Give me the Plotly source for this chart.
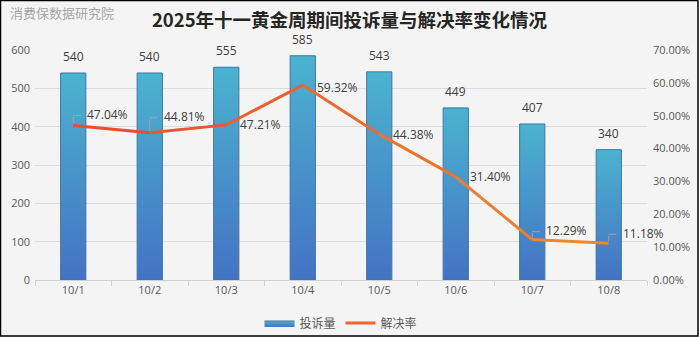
import plotly.graph_objects as go

dates = ["10/1", "10/2", "10/3", "10/4", "10/5", "10/6", "10/7", "10/8"]
complaints = [540, 540, 555, 585, 543, 449, 407, 340]
resolve_rate = [47.04, 44.81, 47.21, 59.32, 44.38, 31.40, 12.29, 11.18]
# label offsets (pixels; negative dy = upward) for the rate labels
label_dx = [12, 12, 12, 12, 12, 12, 12, 12]
label_dy = [-11, -16, 0, 2, 0, 0, -9, -10]

FONT = "Open Sans, Noto Sans CJK SC, sans-serif"
GRAY = "#595959"
BAR_W = 0.33
LEADER = "#A6A6A6"

fig = go.Figure()

# gradient bars
for i, v in enumerate(complaints):
    x0, x1 = i - BAR_W / 2, i + BAR_W / 2
    fig.add_trace(go.Scatter(
        x=[x0, x1, x1, x0, x0], y=[0, 0, v, v, 0],
        mode="lines", fill="toself",
        line=dict(color="#3B76AE", width=1),
        fillgradient=dict(type="vertical",
                          colorscale=[[0, "#4472C4"], [1, "#4BB3CF"]]),
        name="投诉量", legendgroup="bar", showlegend=(i == 0),
        hoverinfo="skip", yaxis="y",
    ))
    fig.add_annotation(x=i, y=v, xref="x", yref="y", text=str(v),
                       showarrow=False, yanchor="bottom", yshift=6,
                       font=dict(size=12, color="#404040", family=FONT))

# rate line, segmented for red->orange gradient
def lerp(c1, c2, t):
    return "#%02x%02x%02x" % tuple(int(round(a + (b - a) * t)) for a, b in zip(c1, c2))

c_start = (234, 71, 46)
c_end = (240, 140, 48)
n = len(resolve_rate)
for i in range(n - 1):
    t = (i + 0.5) / (n - 1)
    fig.add_trace(go.Scatter(
        x=[i, i + 1], y=[resolve_rate[i] / 100, resolve_rate[i + 1] / 100],
        mode="lines", line=dict(color=lerp(c_start, c_end, t), width=3),
        name="解决率", legendgroup="line", showlegend=False,
        hoverinfo="skip", yaxis="y2",
    ))
fig.add_trace(go.Scatter(
    x=[None], y=[None], mode="lines",
    line=dict(color="#F0642E", width=3), name="解决率",
    legendgroup="line", showlegend=True, yaxis="y2",
))

for i, r in enumerate(resolve_rate):
    dx, dy = label_dx[i], label_dy[i]
    fig.add_annotation(x=i, y=r / 100, xref="x", yref="y2",
                       text=f"{r:.2f}%", showarrow=False,
                       xanchor="left", yanchor="middle",
                       xshift=dx, yshift=-dy,
                       font=dict(size=12, color="#404040", family=FONT))
    if dy <= -5:
        # L-shaped leader line: vertical piece
        fig.add_annotation(x=i, y=r / 100, xref="x", yref="y2", text="",
                           showarrow=True, arrowhead=0, arrowwidth=1,
                           arrowcolor=LEADER, ax=0, ay=dy + 1, standoff=2)
        # horizontal piece
        fig.add_annotation(x=i, y=r / 100, xref="x", yref="y2", text="",
                           showarrow=True, arrowhead=0, arrowwidth=1,
                           arrowcolor=LEADER, ax=dx - 3, ay=0,
                           yshift=-(dy + 1), standoff=0)

fig.update_layout(
    width=699, height=337,
    paper_bgcolor="#F4F4F4", plot_bgcolor="#F4F4F4",
    margin=dict(l=35, r=52, t=50, b=57, autoexpand=False),
    font=dict(family=FONT, size=11, color=GRAY),
    title=dict(text="<b>2025年十一黄金周期间投诉量与解决率变化情况</b>",
               x=0.5, xanchor="center", y=0.94, yanchor="middle",
               font=dict(size=18.5, color="#262626",
                         family="Noto Sans CJK SC, sans-serif")),
    xaxis=dict(range=[-0.5, len(dates) - 0.5], tickvals=list(range(len(dates))),
               ticktext=dates, showgrid=False, zeroline=False,
               showline=True, linecolor="#D0D0D0", linewidth=1,
               ticks="", tickfont=dict(size=11, color=GRAY),
               minor=dict(tickvals=[k - 0.5 for k in range(len(dates) + 1)],
                          ticks="outside", ticklen=5, tickcolor="#D0D0D0",
                          showgrid=False)),
    yaxis=dict(range=[0, 600], dtick=100, showgrid=True, gridcolor="#DCDCDC",
               zeroline=False, ticks="", ticklabelstandoff=4,
               tickfont=dict(size=11, color=GRAY)),
    yaxis2=dict(range=[0, 0.7], dtick=0.1, tickformat=".2%", overlaying="y",
                side="right", showgrid=False, zeroline=False, ticks="",
                ticklabelstandoff=5,
                tickfont=dict(size=11, color=GRAY)),
    legend=dict(orientation="h", x=0.5, xanchor="center", yref="container",
                y=1 - 323 / 337, yanchor="middle",
                font=dict(size=12, color=GRAY),
                bgcolor="rgba(0,0,0,0)"),
    showlegend=True,
)

fig.add_annotation(text="消费保数据研究院", xref="paper", yref="paper",
                   x=-27 / 612, y=1 + 38 / 230, xanchor="left", yanchor="middle",
                   showarrow=False,
                   font=dict(size=13, color="#A6A6A6",
                             family="Noto Sans CJK SC, sans-serif"))

fig.add_shape(type="rect", xref="paper", yref="paper",
              x0=-34.5 / 612, x1=1 + 51 / 612, y0=-56 / 230, y1=1 + 49.5 / 230,
              line=dict(color="#000000", width=1.5), fillcolor="rgba(0,0,0,0)")

fig.write_html("out.html")
